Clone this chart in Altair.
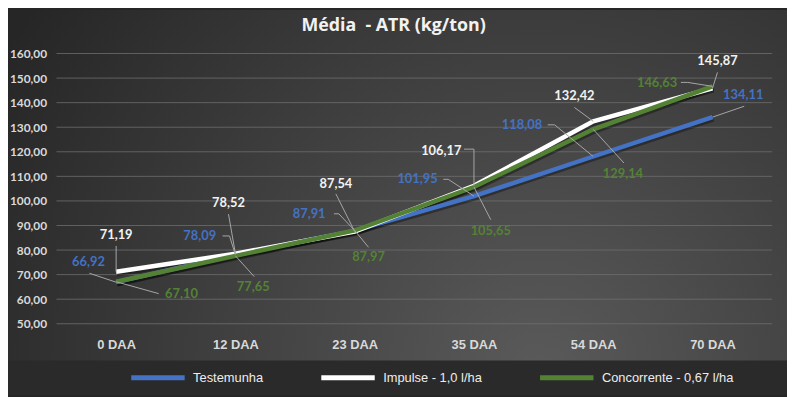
import altair as alt
import pandas as pd

# ---- data ----
categories = ["0 DAA", "12 DAA", "23 DAA", "35 DAA", "54 DAA", "70 DAA"]
series_names = ["Testemunha", "Impulse - 1,0 l/ha", "Concorrente - 0,67 l/ha"]
testemunha = [66.92, 78.09, 87.91, 101.95, 118.08, 134.11]
impulse = [71.19, 78.52, 87.54, 106.17, 132.42, 145.87]
concorrente = [67.10, 77.65, 87.97, 105.65, 129.14, 146.63]
y_ticks = [50, 60, 70, 80, 90, 100, 110, 120, 130, 140, 150, 160]

# ---- styles ----
line_colors = ["#4472C4", "#FFFFFF", "#548235"]
text_colors = ["#4472C4", "#F2F2F2", "#548235"]
# label offsets (px) from each point
label_off = [
    [(-28, -20), (-36, -19), (-46, -17), (-57, -17), (-72, -32), (31, -22)],
    [(0, -37), (-7, -51), (-19, -48), (-33, -35), (-19, -25), (5, -27)],
    [(66, 12), (18, 32), (14, 27), (17, 44), (30, 45), (-56, -3)],
]
# leader line anchor (px, relative to point) and stub start
leader_anchor = [
    [(-27, -9), (-6, -19), (-16, -17), (-26, -17), (-39, -32), (32, -11)],
    [(0, -26), (-7, -40), (-19, -38), (0, -37), (-19, -14), (5, -16)],
    [(43, 12), (19, 21), (14, 17), (17, 33), (31, 34), (-25, -4)],
]
leader_stub = [
    [(-27, -9), (-13, -19), (-21, -17), (-31, -17), (-46, -32), (32, -11)],
    [(0, -26), (-7, -40), (-19, -38), (-10, -37), (-19, -14), (5, -16)],
    [(43, 12), (19, 21), (14, 17), (17, 33), (31, 34), (-32, -4)],
]

values = [testemunha, impulse, concorrente]
rows = []
for s, name in enumerate(series_names):
    for i, cat in enumerate(categories):
        rows.append({
            "cat": cat, "series": name, "value": values[s][i],
            "lcolor": text_colors[s],
            "ldx": label_off[s][i][0], "ldy": label_off[s][i][1],
            "ax": leader_anchor[s][i][0], "ay": leader_anchor[s][i][1],
            "sx": leader_stub[s][i][0], "sy": leader_stub[s][i][1],
        })
df = pd.DataFrame(rows)
df["label"] = df["value"].map(lambda v: f"{v:.2f}".replace(".", ","))
ticks_df = pd.DataFrame({"value": y_ticks})

W, H = 723, 273
PL, PT, PR, PB = 49, 44, 15, 72

xenc = alt.X("cat:N", sort=categories, scale=alt.Scale(type="point", padding=0.5),
             axis=alt.Axis(title=None, domain=False, ticks=False, labelAngle=0,
                           labelFont="Liberation Sans", labelFontSize=13,
                           labelFontWeight="bold", labelColor="#D9D9D9",
                           labelPadding=15, zindex=1))
yscale = alt.Scale(domain=[50, 160], nice=False, zero=False)
yaxis = alt.Axis(title=None, domain=False, ticks=False, grid=False,
                 values=y_ticks,
                 labelExpr="replace(format(datum.value, '.2f'), '.', ',')",
                 labelFont="Lato", labelFontSize=12, labelFontWeight="bold",
                 labelColor="#D9D9D9", labelPadding=10, zindex=1)
yenc = alt.Y("value:Q", scale=yscale, axis=yaxis)

one = pd.DataFrame({"a": [0]})
bg = alt.Chart(one).mark_rect(
    fill=alt.Gradient(
        gradient="radial",
        stops=[alt.GradientStop(color="#5A5A5A", offset=0),
               alt.GradientStop(color="#262626", offset=1)],
        x1=0.68, y1=0.72, x2=0.68, y2=0.72, r1=0, r2=0.8,
    )
).encode(x=alt.value(-PL), x2=alt.value(W + PR), y=alt.value(-PT), y2=alt.value(H + PB))

strip = alt.Chart(one).mark_rect(fill="#2A2A2A").encode(
    x=alt.value(-PL), x2=alt.value(W + PR), y=alt.value(310), y2=alt.value(H + PB))

grid = alt.Chart(ticks_df).mark_rule(color="#6E6E6E", strokeWidth=1, opacity=0.8).encode(
    y=yenc, x=alt.value(0), x2=alt.value(W))

shadow = alt.Chart(df).mark_line(strokeWidth=5, color="#000000", opacity=0.35,
                                  xOffset=1, yOffset=2).encode(
    x=xenc, y=yenc, detail="series:N")

lines = alt.Chart(df).mark_line(strokeWidth=4.5).encode(
    x=xenc, y=yenc,
    color=alt.Color("series:N", sort=series_names,
                    scale=alt.Scale(domain=series_names, range=line_colors),
                    legend=alt.Legend(title=None, orient="none", legendX=73, legendY=298,
                                      direction="horizontal", symbolType="stroke",
                                      symbolSize=2916, symbolStrokeWidth=5,
                                      labelFont="Liberation Sans", labelFontSize=13,
                                      labelColor="#EDEDED", columnPadding=48,
                                      labelOffset=6, gridAlign="none")),
)

leaders = alt.Chart(df).mark_rule(
    color="#A6A6A6", strokeWidth=1,
    x2Offset=alt.expr("datum.ax"), y2Offset=alt.expr("datum.ay"),
).encode(x=xenc, y=yenc, x2=alt.X2("cat:N"), y2=alt.Y2("value:Q"))

stubs = alt.Chart(df).mark_rule(
    color="#A6A6A6", strokeWidth=1,
    xOffset=alt.expr("datum.sx"), yOffset=alt.expr("datum.sy"),
    x2Offset=alt.expr("datum.ax"), y2Offset=alt.expr("datum.ay"),
).encode(x=xenc, y=yenc, x2=alt.X2("cat:N"), y2=alt.Y2("value:Q"))

texts = alt.Chart(df).mark_text(
    font="Lato", fontSize=13, fontWeight="bold", align="center", baseline="middle",
    dx=alt.expr("datum.ldx"), dy=alt.expr("datum.ldy"),
).encode(x=xenc, y=yenc, text="label:N", color=alt.Color("lcolor:N", scale=None))

chart = alt.layer(bg, strip, grid, shadow, lines, leaders, stubs, texts).properties(
    width=W, height=H,
    padding={"left": PL, "top": PT, "right": PR, "bottom": PB},
    autosize=alt.AutoSizeParams(type="none"),
    background="#262626",
    title=alt.TitleParams(text="Média\u00a0 - ATR (kg/ton)", font="Open Sans", fontSize=18,
                          fontWeight="bold", color="#F2F2F2", anchor="middle",
                          dx=-21, offset=0, dy=25, zindex=1),
).configure_view(stroke=None)

chart.save("out.html", embed_options={"renderer": "svg", "actions": False})
